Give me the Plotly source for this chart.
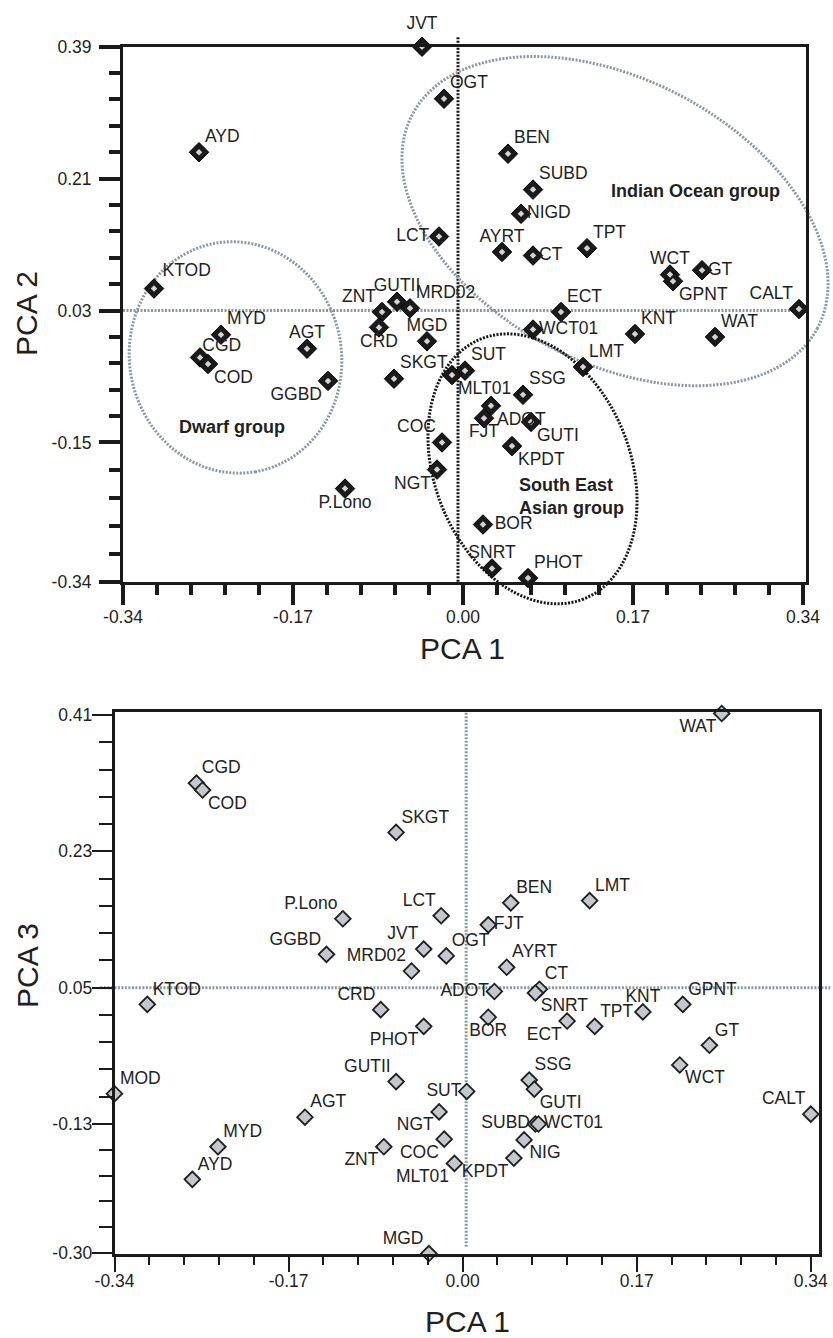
import numpy as np
import plotly.graph_objects as go

W, H = 833, 1338
FONT = "Liberation Sans, Arial, Helvetica, sans-serif"
INK = "#231f20"
GREY_LINE = "#8d979f"

# ---------------- Panel A: PCA 1 vs PCA 2 ----------------
top_names = ["JVT", "OGT", "AYD", "BEN", "SUBD", "NIGD", "LCT", "AYRT", "CT", "TPT",
             "WCT", "GPNT", "GT", "CALT", "ECT", "WCT01", "KNT", "WAT", "LMT", "MGD",
             "SUT", "SKGT", "MLT01", "GUTII", "MRD02", "ZNT", "CRD", "KTOD", "MOD", "MYD",
             "CGD", "COD", "AGT", "GGBD", "P.Lono", "COC", "NGT", "ADOT", "FJT", "SSG",
             "GUTI", "KPDT", "BOR", "SNRT", "PHOT"]
top_pca1 = [-0.041, -0.019, -0.264, 0.045, 0.070, 0.058, -0.024, 0.039, 0.070, 0.124,
            0.207, 0.210, 0.239, 0.336, 0.098, 0.070, 0.172, 0.252, 0.120, -0.036,
            0.002, -0.069, -0.011, -0.066, -0.053, -0.081, -0.084, -0.309, -0.341, -0.242,
            -0.263, -0.255, -0.156, -0.135, -0.118, -0.021, -0.026, 0.028, 0.021, 0.060,
            0.068, 0.049, 0.020, 0.029, 0.065]
top_pca2 = [0.390, 0.319, 0.246, 0.244, 0.195, 0.162, 0.131, 0.110, 0.105, 0.115,
            0.079, 0.070, 0.085, 0.032, 0.028, 0.004, -0.002, -0.006, -0.047, -0.012,
            -0.052, -0.063, -0.058, 0.042, 0.033, 0.028, 0.007, 0.060, 0.026, -0.003,
            -0.034, -0.043, -0.022, -0.066, -0.213, -0.150, -0.187, -0.100, -0.117, -0.085,
            -0.122, -0.155, -0.262, -0.322, -0.335]
top_textpos = ["top center", "top right", "top right", "top right", "top right", "middle right",
               "middle left", "top center", "middle right", "top right",
               "top center", "bottom right", "middle right", "top left", "top right",
               "middle right", "top right", "top right", "top right", "top center",
               "top right", "top right", "bottom right", "top center", "top right",
               "top left", "bottom center", "top right", "top right", "top right",
               "top right", "bottom right", "top center", "bottom left", "bottom center",
               "top left", "bottom left", "bottom right", "bottom center", "top right",
               "bottom right", "bottom right", "middle right", "top center", "top right"]

# ---------------- Panel B: PCA 1 vs PCA 3 ----------------
bot_names = ["WAT", "CGD", "COD", "SKGT", "P.Lono", "GGBD", "MRD02", "LCT", "JVT", "OGT",
             "BEN", "FJT", "LMT", "AYRT", "KTOD", "MOD", "CRD", "PHOT", "GUTII", "SUT",
             "AGT", "NGT", "ZNT", "COC", "MLT01", "MGD", "MYD", "AYD", "ADOT", "CT",
             "SNRT", "BOR", "ECT", "TPT", "KNT", "GPNT", "GT", "WCT", "SSG", "GUTI",
             "CALT", "SUBD", "WCT01", "NIG", "KPDT"]
bot_pca1 = [0.253, -0.260, -0.254, -0.065, -0.117, -0.133, -0.050, -0.021, -0.038, -0.016,
            0.047, 0.025, 0.124, 0.043, -0.308, -0.340, -0.080, -0.038, -0.065, 0.004,
            -0.154, -0.023, -0.077, -0.018, -0.008, -0.033, -0.239, -0.264, 0.031, 0.075,
            0.071, 0.025, 0.102, 0.129, 0.176, 0.215, 0.241, 0.212, 0.065, 0.070,
            0.340, 0.071, 0.074, 0.060, 0.050]
bot_pca3 = [0.412, 0.320, 0.311, 0.255, 0.141, 0.094, 0.072, 0.145, 0.101, 0.092,
            0.162, 0.133, 0.165, 0.077, 0.028, -0.090, 0.021, -0.001, -0.074, -0.087,
            -0.121, -0.114, -0.160, -0.150, -0.182, -0.301, -0.160, -0.203, 0.045, 0.048,
            0.043, 0.011, 0.006, -0.001, 0.018, 0.028, -0.026, -0.052, -0.072, -0.084,
            -0.117, -0.130, -0.130, -0.151, -0.175]
bot_textpos = ["bottom left", "top right", "bottom right", "top right", "top left",
               "top left", "top left", "top left", "top left", "top right",
               "top right", "middle right", "top right", "top right", "top right",
               "top right", "top left", "bottom left", "top left", "middle left",
               "top right", "bottom left", "bottom left", "bottom left", "bottom left",
               "top left", "top right", "top right", "middle left", "top right",
               "bottom right", "bottom center", "bottom left", "top right", "top center",
               "top right", "top right", "bottom right", "top right", "bottom right",
               "top left", "middle left", "middle right", "bottom right", "bottom left"]

# axis tick labels
pc1_ticks = [-0.34, -0.17, 0.0, 0.17, 0.34]
pc1_ticktext = ["-0.34", "-0.17", "0.00", "0.17", "0.34"]
pc2_ticks = [-0.34, -0.15, 0.03, 0.21, 0.39]
pc2_ticktext = ["-0.34", "-0.15", "0.03", "0.21", "0.39"]
pc3_ticks = [-0.30, -0.13, 0.05, 0.23, 0.41]
pc3_ticktext = ["-0.30", "-0.13", "0.05", "0.23", "0.41"]

# axis ranges
top_xr = [-0.34, 0.343]
top_yr = [-0.34, 0.39]
bot_xr = [-0.34, 0.348]
bot_yr = [-0.302, 0.4136]

# subplot domains (pixels -> paper)
top_dom_px = dict(x0=123, x1=806, y0=46.7, y1=581.7)
bot_dom_px = dict(x0=114.5, x1=819, y0=712.3, y1=1254.3)

# label gap (marker size used to offset the label text), with exceptions
TOP_GAP, BOT_GAP = 8, 7
gap_exceptions_top = {"JVT": 20, "LCT": 14, "KTOD": 12, "CGD": 2, "BOR": 17}


def dom(px):
    return ([px["x0"] / W, px["x1"] / W], [1 - px["y1"] / H, 1 - px["y0"] / H])


top_xd, top_yd = dom(top_dom_px)
bot_xd, bot_yd = dom(bot_dom_px)

# group ellipses: centre (data), semi-axes (in PCA1 units), rotation (deg, clockwise on screen)
groups = [
    dict(name="Indian Ocean group", cx=0.152, cy=0.152, a=0.229, b=0.1416, ang=27.8,
         color=GREY_LINE, lx=0.232, ly=0.193, anchor="center"),
    dict(name="Dwarf group", cx=-0.2275, cy=-0.034, a=0.116, b=0.106, ang=80.0,
         color=GREY_LINE, lx=-0.231, ly=-0.1286, anchor="center"),
    dict(name="South East<br>Asian group", cx=0.0695, cy=-0.186, a=0.1398, b=0.098, ang=68.6,
         color="#151515", lx=0.054, ly=-0.2234, anchor="left"),
]


def minor_vals(major):
    out = []
    for a, b in zip(major[:-1], major[1:]):
        out.extend(list(np.linspace(a, b, 6)[1:-1]))
    return out


def ellipse_path(g, xr, yr, dpx):
    wpx = dpx["x1"] - dpx["x0"]
    hpx = dpx["y1"] - dpx["y0"]
    sx = wpx / (xr[1] - xr[0])
    fcx = (g["cx"] - xr[0]) / (xr[1] - xr[0])
    fcy = (g["cy"] - yr[0]) / (yr[1] - yr[0])
    t = np.linspace(0, 2 * np.pi, 240)
    th = np.radians(g["ang"])
    a, b = g["a"] * sx, g["b"] * sx
    dx = a * np.cos(th) * np.cos(t) - b * np.sin(th) * np.sin(t)
    dy = a * np.sin(th) * np.cos(t) + b * np.cos(th) * np.sin(t)  # screen, down
    fx = fcx + dx / wpx
    fy = fcy - dy / hpx
    return "M " + " L ".join(f"{x:.5f},{y:.5f}" for x, y in zip(fx, fy)) + " Z"


def dfrac(v, r):
    return (v - r[0]) / (r[1] - r[0])


fig = go.Figure()

# --- top panel markers ---
fig.add_trace(go.Scatter(
    x=top_pca1, y=top_pca2, mode="markers", cliponaxis=False,
    marker=dict(symbol="diamond", size=15, color="#1a1a1a", line=dict(color="#000", width=1)),
    xaxis="x", yaxis="y", showlegend=False, text=top_names, hoverinfo="text"))
fig.add_trace(go.Scatter(
    x=top_pca1, y=top_pca2, mode="markers", cliponaxis=False,
    marker=dict(symbol="diamond", size=5, color="#d4d4d4", line=dict(width=0)),
    xaxis="x", yaxis="y", showlegend=False, hoverinfo="skip"))
fig.add_trace(go.Scatter(
    x=top_pca1, y=top_pca2, text=top_names, mode="markers+text",
    textposition=top_textpos, cliponaxis=False,
    marker=dict(size=[gap_exceptions_top.get(n, TOP_GAP) for n in top_names],
                color="rgba(0,0,0,0)", line=dict(width=0)),
    textfont=dict(family=FONT, size=17.5, color=INK),
    xaxis="x", yaxis="y", showlegend=False, hoverinfo="skip"))

# --- bottom panel markers ---
fig.add_trace(go.Scatter(
    x=bot_pca1, y=bot_pca3, mode="markers", cliponaxis=False,
    marker=dict(symbol="diamond", size=12, color="#c4c7cb", line=dict(color="#1e1e1e", width=1.8)),
    xaxis="x2", yaxis="y2", showlegend=False, text=bot_names, hoverinfo="text"))
fig.add_trace(go.Scatter(
    x=bot_pca1, y=bot_pca3, text=bot_names, mode="markers+text",
    textposition=bot_textpos, cliponaxis=False,
    marker=dict(size=BOT_GAP, color="rgba(0,0,0,0)", line=dict(width=0)),
    textfont=dict(family=FONT, size=17.5, color=INK),
    xaxis="x2", yaxis="y2", showlegend=False, hoverinfo="skip"))

shapes = []
DOT = "2px,1.5px"
# top panel reference lines
shapes.append(dict(type="line", xref="x domain", yref="y domain",
                   x0=0.0, x1=1.0, y0=dfrac(0.03, top_yr), y1=dfrac(0.03, top_yr),
                   line=dict(color=GREY_LINE, width=3, dash=DOT), layer="below"))
shapes.append(dict(type="line", xref="x domain", yref="y domain",
                   x0=dfrac(-0.005, top_xr), x1=dfrac(-0.005, top_xr),
                   y0=0.0, y1=dfrac(0.405, top_yr),
                   line=dict(color="#151515", width=3, dash=DOT), layer="below"))
# ellipses
for g in groups:
    shapes.append(dict(type="path", xref="x domain", yref="y domain",
                       path=ellipse_path(g, top_xr, top_yr, top_dom_px),
                       line=dict(color=g["color"], width=3, dash=DOT), layer="below"))
# bottom panel reference lines
shapes.append(dict(type="line", xref="x2 domain", yref="y2 domain",
                   x0=-0.02, x1=1.016, y0=dfrac(0.05, bot_yr), y1=dfrac(0.05, bot_yr),
                   line=dict(color=GREY_LINE, width=3, dash=DOT), layer="below"))
shapes.append(dict(type="line", xref="x2 domain", yref="y2 domain",
                   x0=dfrac(0.0034, bot_xr), x1=dfrac(0.0034, bot_xr),
                   y0=dfrac(-0.292, bot_yr), y1=1.0,
                   line=dict(color=GREY_LINE, width=3, dash=DOT), layer="below"))

annotations = []
for g in groups:
    annotations.append(dict(x=g["lx"], y=g["ly"], xref="x", yref="y", text=g["name"],
                            showarrow=False, xanchor=g["anchor"], yanchor="middle",
                            align="left",
                            font=dict(family=FONT, size=18, color=INK, weight="bold")))
# axis titles
title_font = dict(family=FONT, size=30, color=INK)
annotations += [
    dict(x=462 / W, y=1 - 648 / H, xref="paper", yref="paper", text="PCA 1",
         showarrow=False, xanchor="center", yanchor="middle", font=title_font),
    dict(x=27 / W, y=1 - 314 / H, xref="paper", yref="paper", text="PCA 2",
         showarrow=False, xanchor="center", yanchor="middle", textangle=-90, font=title_font),
    dict(x=467 / W, y=1 - 1321 / H, xref="paper", yref="paper", text="PCA 1",
         showarrow=False, xanchor="center", yanchor="middle", font=title_font),
    dict(x=27 / W, y=1 - 966 / H, xref="paper", yref="paper", text="PCA 3",
         showarrow=False, xanchor="center", yanchor="middle", textangle=-90, font=title_font),
]

tick_font = dict(family=FONT, size=17.5, color=INK)


def axis(rng, domain, tv, tt, lw, tw, tl, mtl, anchor, standoff):
    return dict(range=rng, domain=domain, anchor=anchor, showgrid=False, zeroline=False,
                showline=True, linecolor="#1a1a1a", linewidth=lw, mirror=True,
                ticks="outside", tickvals=tv, ticktext=tt, ticklen=tl, tickwidth=tw,
                tickcolor="#1a1a1a", tickfont=tick_font, automargin=False,
                ticklabelstandoff=standoff,
                minor=dict(tickmode="array", tickvals=minor_vals(tv), ticks="outside",
                           ticklen=mtl, tickwidth=tw, tickcolor="#1a1a1a", showgrid=False))


fig.update_layout(
    width=W, height=H, template="none",
    paper_bgcolor="white", plot_bgcolor="white",
    margin=dict(l=0, r=0, t=0, b=0, autoexpand=False),
    xaxis=axis(top_xr, top_xd, pc1_ticks, pc1_ticktext, 3, 4, 20, 10, "y", -3),
    yaxis=axis(top_yr, top_yd, pc2_ticks, pc2_ticktext, 3, 4, 21, 11, "x", 4),
    xaxis2=axis(bot_xr, bot_xd, pc1_ticks, pc1_ticktext, 2.5, 1.6, 15, 8, "y2", -6),
    yaxis2=axis(bot_yr, bot_yd, pc3_ticks, pc3_ticktext, 2.5, 1.6, 20, 13, "x2", -4),
    shapes=shapes, annotations=annotations, showlegend=False,
)

fig.write_html("out.html", config={"displayModeBar": False},
               post_script="document.body.style.margin='0px';document.body.style.overflow='hidden';")
